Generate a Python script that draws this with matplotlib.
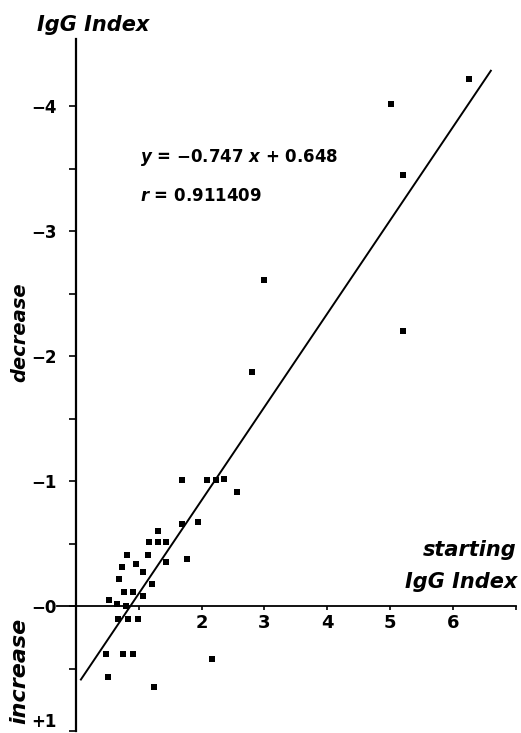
import matplotlib
matplotlib.use("Agg")
import matplotlib.pyplot as plt
import numpy as np

# starting IgG index and change after treatment (negative = decrease)
start_index = [6.26, 5.01, 5.21, 3.00, 5.20, 2.80,
               1.69, 2.09, 2.23, 2.35, 2.57, 1.69, 1.95,
               1.30, 1.16, 1.31, 1.44, 0.82, 1.15, 1.77, 1.44,
               0.96, 0.73, 1.06, 0.69, 1.21, 0.77, 0.91, 1.06,
               0.52, 0.66, 0.80, 0.67, 0.83, 0.99,
               0.48, 0.75, 0.91, 2.17, 0.51, 1.24]
change = [-4.22, -4.02, -3.45, -2.61, -2.20, -1.87,
          -1.01, -1.01, -1.01, -1.02, -0.91, -0.66, -0.67,
          -0.60, -0.51, -0.51, -0.51, -0.41, -0.41, -0.38, -0.35,
          -0.34, -0.31, -0.27, -0.22, -0.18, -0.11, -0.11, -0.08,
          -0.05, -0.02, 0.00, 0.10, 0.10, 0.10,
          0.38, 0.38, 0.38, 0.42, 0.57, 0.65]

slope = -0.747
intercept = 0.648
r_value = 0.911409
fit_range = [0.08, 6.6]

y_ticks = [-4, -3, -2, -1, 0, 1]
y_labels = ["\u22124", "\u22123", "\u22122", "\u22121", "\u22120", "+1"]
y_minor = [-3.5, -2.5, -1.5, -0.5, 0.5]
x_ticks = [1, 2, 3, 4, 5, 6, 7]
x_labels = ["", "2", "3", "4", "5", "6", ""]

plt.rcParams["mathtext.fontset"] = "custom"
plt.rcParams["mathtext.it"] = "DejaVu Sans:italic:bold"
plt.rcParams["mathtext.rm"] = "DejaVu Sans:bold"

W, H = 521, 733
fig = plt.figure(figsize=(W / 100, H / 100), dpi=100)
ax = fig.add_axes([57 / W, 2 / H, (516 - 57) / W, (731 - 39) / H])

ax.plot(start_index, change, "s", color="black", ms=4.5, mew=0)
fx = np.array(fit_range)
ax.plot(fx, slope * fx + intercept, color="black", lw=1.4)

ax.set_xlim(-0.3, 7.0)
ax.set_ylim(1.0, -4.536)

for s in ["top", "right"]:
    ax.spines[s].set_visible(False)
ax.spines["left"].set_position(("data", 0))
ax.spines["bottom"].set_position(("data", 0))
ax.spines["left"].set_linewidth(1.6)
ax.spines["bottom"].set_linewidth(1.3)

ax.set_yticks(y_ticks)
ax.set_yticklabels(y_labels, fontsize=12, fontweight="heavy")
ax.get_yticklabels()[-1].set_va("bottom")
ax.set_yticks(y_minor, minor=True)
ax.tick_params(axis="y", which="both", direction="out", length=5, width=1.2, pad=9)

ax.set_xticks(x_ticks)
ax.set_xticklabels(x_labels, fontsize=13, fontweight="heavy")
ax.tick_params(axis="x", which="both", direction="out", length=3, width=1.2, pad=3)

def put(x, y, s, **kw):
    fig.text(x / W, 1 - y / H, s, **kw)

put(37, 25, "IgG Index", ha="left", va="center", fontsize=15,
    fontweight="bold", fontstyle="italic")
put(517, 550, "starting", ha="right", va="center", fontsize=15,
    fontweight="bold", fontstyle="italic")
put(517, 582, "IgG Index", ha="right", va="center", fontsize=15,
    fontweight="bold", fontstyle="italic")
put(20, 332, "decrease", ha="center", va="center", rotation=90,
    fontsize=14, fontweight="bold", fontstyle="italic")
put(19, 671, "increase", ha="center", va="center", rotation=90,
    fontsize=16, fontweight="bold", fontstyle="italic")

put(140, 158, r"$y$ = " + "\u22120.747 " + r"$x$ + 0.648",
    ha="left", va="center", fontsize=12, fontweight="bold")
put(140, 196, r"$r$ = " + f"{r_value}", ha="left", va="center",
    fontsize=12, fontweight="bold")

fig.savefig("out.png", dpi=100)
